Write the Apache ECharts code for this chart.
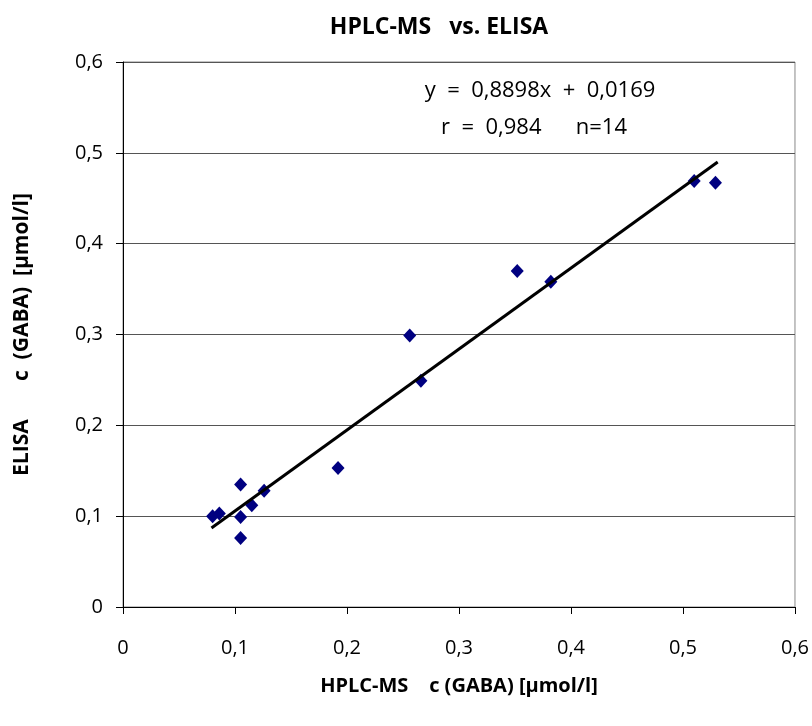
<!DOCTYPE html>
<html>
<head>
<meta charset="utf-8">
<script src="https://cdn.jsdelivr.net/npm/echarts@6/dist/echarts.min.js"></script>
<style>
  html, body { margin: 0; padding: 0; background: #fff; }
  #chart { width: 812px; height: 726px; }
</style>
</head>
<body>
<div id="chart"></div>
<script>
// HPLC-MS (x) vs ELISA (y), GABA in umol/l
var hplcValues  = [0.080, 0.086, 0.105, 0.105, 0.105, 0.115, 0.126, 0.192, 0.256, 0.266, 0.352, 0.382, 0.510, 0.529];
var elisaValues = [0.100, 0.103, 0.135, 0.099, 0.076, 0.112, 0.128, 0.153, 0.299, 0.249, 0.370, 0.358, 0.469, 0.467];

// trend line end points as drawn in the picture
var trendX = [0.079, 0.531];
var trendY = [0.087, 0.490];

var axisTicks = [0, 0.1, 0.2, 0.3, 0.4, 0.5, 0.6];
var eqLines = ['y  =  0,8898x  +  0,0169', 'r  =  0,984      n=14'];

var FONT = 'Open Sans';

function fmt(v) {
    return String(Math.round(v * 10) / 10).replace('.', ',');
}

var points = hplcValues.map(function (x, i) { return [x, elisaValues[i]]; });
var trend = trendX.map(function (x, i) { return [x, trendY[i]]; });

var myChart = echarts.init(document.getElementById('chart'));

myChart.setOption({
    backgroundColor: '#fff',
    animation: false,
    textStyle: { fontFamily: FONT },
    title: {
        text: 'HPLC-MS   vs. ELISA',
        left: 434,
        top: 11,
        textAlign: 'center',
        textStyle: { fontFamily: FONT, fontSize: 23, fontWeight: 'bold', color: '#000' }
    },
    grid: {
        left: 123,
        right: 16,
        top: 62,
        bottom: 119,
        show: true,
        borderColor: '#888',
        borderWidth: 1
    },
    xAxis: {
        type: 'value',
        min: axisTicks[0],
        max: axisTicks[axisTicks.length - 1],
        interval: 0.1,
        name: 'HPLC-MS    c (GABA) [µmol/l]',
        nameLocation: 'middle',
        nameGap: 69,
        nameTextStyle: { fontFamily: FONT, fontSize: 20, fontWeight: 'bold', color: '#000' },
        axisLine: { onZero: false, lineStyle: { color: '#000', width: 1 } },
        axisTick: { show: true, length: 7, lineStyle: { color: '#000' } },
        axisLabel: { margin: 31, fontSize: 20, color: '#000', fontFamily: FONT, formatter: fmt },
        splitLine: { show: false }
    },
    yAxis: {
        type: 'value',
        min: axisTicks[0],
        max: axisTicks[axisTicks.length - 1],
        interval: 0.1,
        name: 'ELISA       c  (GABA)  [µmol/l]',
        nameLocation: 'middle',
        nameGap: 90,
        nameTextStyle: { fontFamily: FONT, fontSize: 21, fontWeight: 'bold', color: '#000' },
        axisLine: { onZero: false, lineStyle: { color: '#000', width: 1 } },
        axisTick: { show: true, length: 7, lineStyle: { color: '#000' } },
        axisLabel: { margin: 20, fontSize: 20, color: '#000', fontFamily: FONT, formatter: fmt },
        splitLine: { show: true, lineStyle: { color: '#555', width: 1 } }
    },
    graphic: [
        {
            type: 'text',
            x: 540,
            y: 91,
            style: { text: eqLines[0], font: '22px "Open Sans"', fill: '#000', align: 'center', verticalAlign: 'middle' }
        },
        {
            type: 'text',
            x: 534,
            y: 128,
            style: { text: eqLines[1], font: '22px "Open Sans"', fill: '#000', align: 'center', verticalAlign: 'middle' }
        }
    ],
    series: [
        {
            type: 'line',
            data: trend,
            symbol: 'none',
            lineStyle: { color: '#000', width: 3 },
            z: 3
        },
        {
            type: 'scatter',
            data: points,
            symbol: 'diamond',
            symbolSize: [13, 14],
            itemStyle: { color: '#000080', opacity: 1 },
            z: 2
        }
    ]
});
</script>
</body>
</html>
